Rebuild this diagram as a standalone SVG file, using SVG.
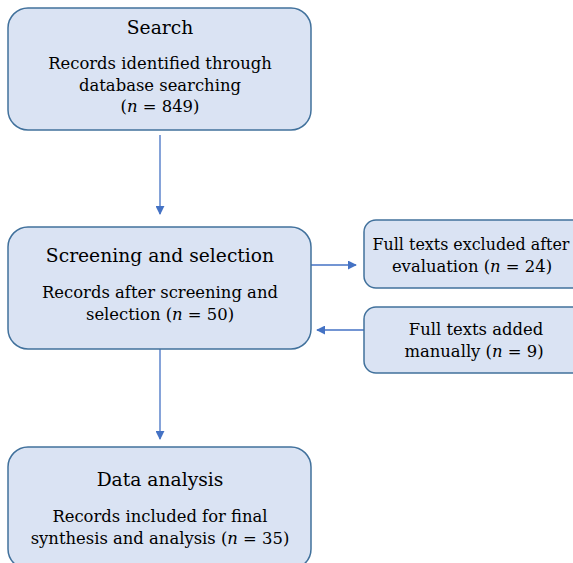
<svg xmlns="http://www.w3.org/2000/svg" width="573" height="563" viewBox="0 0 573 563">
<defs>
<style>
.box{fill:#dae3f3;stroke:#41719c;stroke-width:1.5}
.t{font-family:"DejaVu Serif",serif;fill:#000;text-anchor:middle}
.h{font-size:18.7px}
.b{font-size:16.4px}
.c{stroke:#4472c4;stroke-width:1.3;fill:none;marker-end:url(#ah)}
</style>
<marker id="ah" viewBox="0 0 10 10" refX="9" refY="5" markerWidth="9" markerHeight="9" markerUnits="userSpaceOnUse" orient="auto">
<path d="M0,0 L10,5 L0,10 z" fill="#4472c4"/>
</marker>
</defs>
<rect width="573" height="563" fill="#fff"/>
<g id="connectors">
<line class="c" x1="160" y1="135" x2="160" y2="214"/>
<line class="c" x1="311" y1="265" x2="356" y2="265"/>
<line class="c" x1="364" y1="330" x2="317" y2="330"/>
<line class="c" x1="160" y1="349" x2="160" y2="439"/>
</g>
<g id="search">
<rect class="box" x="8" y="8" width="303" height="122" rx="20"/>
<text class="t h" x="160" y="34">Search</text>
<text class="t b" x="160" y="69">Records identified through</text>
<text class="t b" x="160" y="91">database searching</text>
<text class="t b" x="160" y="112">(<tspan font-style="italic">n</tspan> = 849)</text>
</g>
<g id="screening">
<rect class="box" x="8" y="227" width="303" height="122" rx="20"/>
<text class="t h" x="160" y="262">Screening and selection</text>
<text class="t b" x="160" y="298">Records after screening and</text>
<text class="t b" x="160" y="320">selection (<tspan font-style="italic">n</tspan> = 50)</text>
</g>
<g id="excluded">
<rect class="box" x="364" y="220" width="220" height="68" rx="12"/>
<text class="t b" x="471" y="250" style="font-size:15.9px">Full texts excluded after</text>
<text class="t b" x="472" y="272">evaluation (<tspan font-style="italic">n</tspan> = 24)</text>
</g>
<g id="added">
<rect class="box" x="364" y="307" width="220" height="66" rx="12"/>
<text class="t b" x="476" y="335">Full texts added</text>
<text class="t b" x="474" y="357">manually (<tspan font-style="italic">n</tspan> = 9)</text>
</g>
<g id="analysis">
<rect class="box" x="8" y="447" width="303" height="122" rx="20"/>
<text class="t h" x="160" y="486">Data analysis</text>
<text class="t b" x="160" y="522">Records included for final</text>
<text class="t b" x="160" y="544">synthesis and analysis (<tspan font-style="italic">n</tspan> = 35)</text>
</g>
</svg>
